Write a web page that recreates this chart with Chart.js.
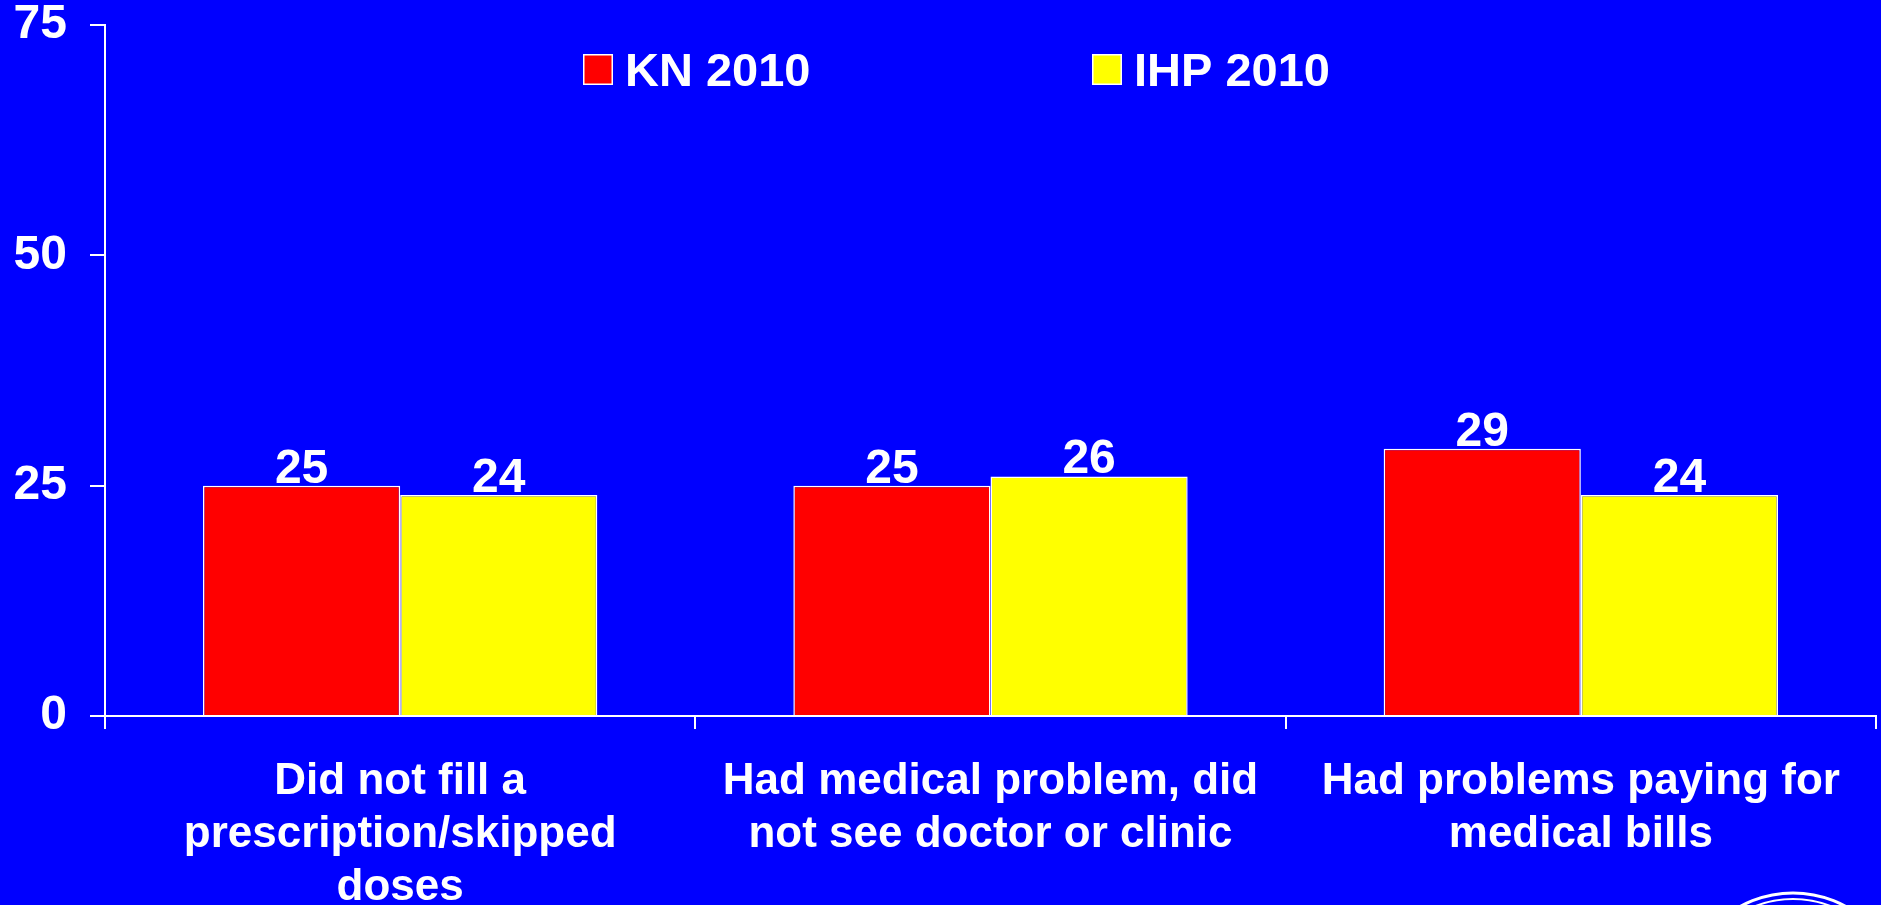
<!DOCTYPE html>
<html>
<head>
<meta charset="utf-8">
<script src="https://cdn.jsdelivr.net/npm/chart.js@4"></script>
<style>
  html, body { margin: 0; padding: 0; background: #0000FF; }
  #wrap { width: 1881px; height: 905px; position: relative; }
</style>
</head>
<body>
<div id="wrap"><canvas id="c" width="1881" height="905"></canvas></div>
<script>
const categories = [
  ["Did not fill a", "prescription/skipped", "doses"],
  ["Had medical problem, did", "not see doctor or clinic"],
  ["Had problems paying for", "medical bills"]
];
const seriesNames = ["KN 2010", "IHP 2010"];
const kn2010 = [25, 25, 29];
const ihp2010 = [24, 26, 24];
const yTicks = [0, 25, 50, 75];

const FONT = '"Liberation Sans", Arial, Helvetica, sans-serif';
const seriesColors = ["#FF0000", "#FFFF00"];

const valueLabels = {
  id: 'valueLabels',
  afterDatasetsDraw(chart) {
    const ctx = chart.ctx;
    ctx.save();
    ctx.fillStyle = '#FFFFFF';
    ctx.font = 'bold 48px ' + FONT;
    ctx.textAlign = 'center';
    ctx.textBaseline = 'alphabetic';
    chart.data.datasets.forEach((ds, di) => {
      const meta = chart.getDatasetMeta(di);
      meta.data.forEach((bar, i) => {
        ctx.fillText(String(ds.data[i]), bar.x, bar.y - 3);
      });
    });
    ctx.restore();
  }
};

const insideLegend = {
  id: 'insideLegend',
  afterDraw(chart) {
    const ctx = chart.ctx;
    const a = chart.chartArea;
    const items = [
      { x: a.left + 478, label: seriesNames[0], color: seriesColors[0] },
      { x: a.left + 987, label: seriesNames[1], color: seriesColors[1] }
    ];
    ctx.save();
    items.forEach(it => {
      ctx.fillStyle = it.color;
      ctx.fillRect(it.x, a.top + 29, 30, 31);
      ctx.strokeStyle = '#FFFFFF';
      ctx.lineWidth = 1.5;
      ctx.strokeRect(it.x + 0.75, a.top + 29.75, 28.5, 29.5);
      ctx.fillStyle = '#FFFFFF';
      ctx.font = 'bold 47px ' + FONT;
      ctx.textBaseline = 'alphabetic';
      ctx.textAlign = 'left';
      ctx.fillText(it.label, it.x + 42, a.top + 61);
    });
    ctx.restore();
  }
};

const logoArcs = {
  id: 'logoArcs',
  afterDraw(chart) {
    const ctx = chart.ctx;
    const cx = chart.width - 88, cy = chart.height + 98;
    ctx.save();
    ctx.strokeStyle = '#FFFFFF';
    ctx.lineWidth = 3;
    ctx.beginPath();
    ctx.arc(cx, cy, 110, Math.PI, 2 * Math.PI);
    ctx.stroke();
    ctx.lineWidth = 2;
    ctx.beginPath();
    ctx.arc(cx, cy, 104, Math.PI, 2 * Math.PI);
    ctx.stroke();
    ctx.restore();
  }
};

new Chart(document.getElementById('c'), {
  type: 'bar',
  data: {
    labels: categories,
    datasets: [
      { label: seriesNames[0], data: kn2010, backgroundColor: seriesColors[0], borderColor: '#FFFFFF', borderWidth: 1.5 },
      { label: seriesNames[1], data: ihp2010, backgroundColor: seriesColors[1], borderColor: '#FFFFFF', borderWidth: 1.5 }
    ]
  },
  options: {
    responsive: false,
    animation: false,
    devicePixelRatio: 1,
    layout: { padding: { top: 25, right: 5, left: 0, bottom: 0 } },
    datasets: { bar: { categoryPercentage: 0.668, barPercentage: 1.0 } },
    plugins: {
      legend: { display: false },
      tooltip: { enabled: false },
      title: { display: false }
    },
    scales: {
      x: {
        afterFit(scale) { scale.height = 189; },
        grid: { display: true, drawOnChartArea: false, drawTicks: true, tickLength: 13, color: '#FFFFFF', lineWidth: 2, offset: true },
        border: { display: true, color: '#FFFFFF', width: 2 },
        ticks: {
          color: '#FFFFFF',
          font: { family: FONT, size: 44, weight: 'bold', lineHeight: 1.2045 },
          padding: 26,
          autoSkip: false,
          maxRotation: 0,
          minRotation: 0
        }
      },
      y: {
        min: 0,
        max: 75,
        afterFit(scale) { scale.width = 105; },
        afterBuildTicks(scale) { scale.ticks = yTicks.map(v => ({ value: v })); },
        grid: { display: true, drawOnChartArea: false, drawTicks: true, tickLength: 15, color: '#FFFFFF', lineWidth: 2 },
        border: { display: true, color: '#FFFFFF', width: 2 },
        ticks: {
          color: '#FFFFFF',
          font: { family: FONT, size: 48, weight: 'bold', lineHeight: 0.04 },
          padding: 23
        }
      }
    }
  },
  plugins: [valueLabels, insideLegend, logoArcs]
});
</script>
</body>
</html>
